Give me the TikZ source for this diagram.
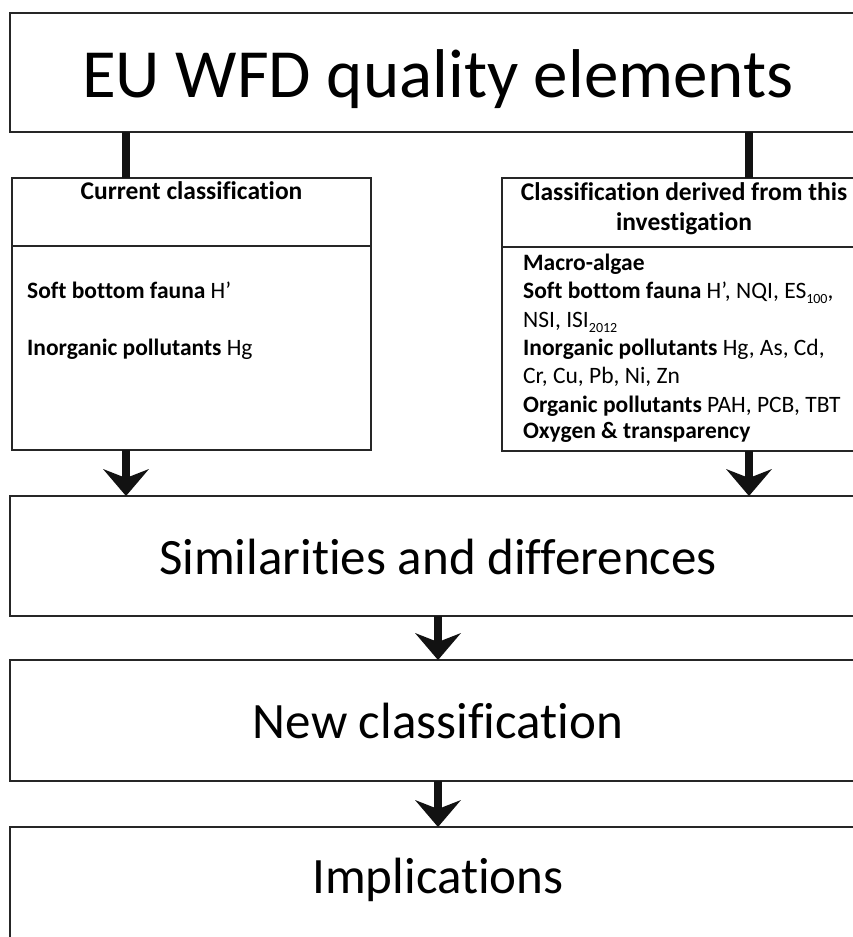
\documentclass[tikz,border=0pt]{standalone}
\usepackage{fontspec}
\setmainfont{Carlito}[Ligatures=NoCommon]
\usepackage{tikz}
\usetikzlibrary{positioning,calc,arrows.meta}

\newcommand{\lowidx}[1]{\raisebox{-5pt}{\fontsize{14}{14}\selectfont #1}}

\begin{document}
\begin{tikzpicture}[x=1pt, y=-1pt,
    frame/.style={draw=black!85, line width=1.8pt, rectangle, inner sep=0pt, outer sep=0pt},
    widebox/.style={frame, minimum width=856pt, minimum height=120pt, font=\fontsize{51}{61}\selectfont, text height=36pt, text depth=0pt},
    halfbox/.style={frame, anchor=north west},
    headtext/.style={font=\bfseries\fontsize{25.5}{30}\selectfont, anchor=base, inner sep=0pt},
    bodytext/.style={font=\fontsize{23.5}{28}\selectfont, anchor=base west, inner sep=0pt},
    stem/.style={line width=8.5pt, draw=black!93},
    flow/.style={stem, -{Stealth[length=27pt, width=46pt, inset=9pt, line width=0pt]}}]
    \useasboundingbox (0,0) rectangle (853,937);
    \clip (0,0) rectangle (853,937);

    % EU WFD quality elements
    \node[widebox, minimum height=119pt, font=\fontsize{69}{83}\selectfont, text height=49pt] (wfd) at (438,72.5) {EU WFD quality elements};

    % Current classification
    \node[halfbox, minimum width=359pt, minimum height=68pt] (curhead) at (12,178) {};
    \node[halfbox, minimum width=359pt, minimum height=204pt] (curbody) at (curhead.south west) {};
    \node[headtext] (curtitle) at (191.5,199) {Current classification};
    \node[bodytext] (curfauna) at (27,298) {\textbf{Soft bottom fauna} H’};
    \node[bodytext] (curinorg) at (27,355) {\textbf{Inorganic pollutants} Hg};

    % Classification derived from this investigation
    \node[halfbox, minimum width=362pt, minimum height=69pt] (derhead) at (502,178) {};
    \node[halfbox, minimum width=362pt, minimum height=204pt] (derbody) at (derhead.south west) {};
    \node[headtext] (dertitle) at (684,200) {Classification derived from this};
    \node[headtext] (dertitleb) at (684,230) {investigation};
    \foreach \yy/\txt [count=\i] in {270/{\textbf{Macro-algae}},
            298/{\textbf{Soft bottom fauna} H’, NQI, ES\lowidx{100},},
            327/{NSI, ISI\lowidx{2012}},
            355/{\textbf{Inorganic pollutants} Hg, As, Cd,},
            383/{Cr, Cu, Pb, Ni, Zn},
            412/{\textbf{Organic pollutants} PAH, PCB, TBT},
            438/{\textbf{Oxygen \& transparency}}} {
        \node[bodytext] (derline\i) at (523,\yy) {\txt};
    }

    % lower boxes
    \node[widebox] (sim) at (438,556) {Similarities and differences};
    \node[widebox, minimum height=121pt, text height=35pt] (newcls) at (438,720.5) {New classification};
    \node[widebox, text height=32pt, text depth=20pt] (impl) at (438,887) {Implications};

    % connectors
    \coordinate (lx) at (126,0);
    \coordinate (rx) at (749,0);
    \draw[stem] (wfd.south -| lx) -- (curhead.north -| lx);
    \draw[stem] (wfd.south -| rx) -- (derhead.north -| rx);
    \draw[flow] (curbody.south -| lx) -- (sim.north -| lx);
    \draw[flow] (derbody.south -| rx) -- (sim.north -| rx);
    \draw[flow] (sim.south) -- (newcls.north);
    \draw[flow] (newcls.south) -- (impl.north);
\end{tikzpicture}
\end{document}
